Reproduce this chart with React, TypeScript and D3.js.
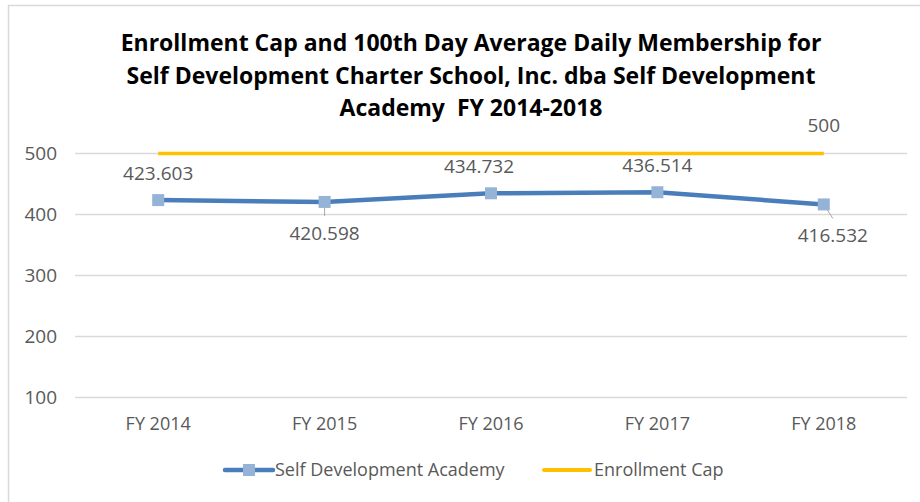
import React from "react";
import * as d3 from "d3";

const categories = ["FY 2014", "FY 2015", "FY 2016", "FY 2017", "FY 2018"];
const academyValues = [423.603, 420.598, 434.732, 436.514, 416.532];
const capValues = [500, 500, 500, 500, 500];
const yTicks = [100, 200, 300, 400, 500];
const titleLines = [
  "Enrollment Cap and 100th Day Average Daily Membership for",
  "Self Development Charter School, Inc. dba Self Development",
  "Academy\u00a0 FY 2014-2018",
];
const seriesNames = ["Self Development Academy", "Enrollment Cap"];
// label placement for academy data labels
const labelBelow = [false, true, false, false, true];
const labelDx = [0, 0, -12, 0, 9];

const W = 920;
const H = 502;
const FONT = "'Open Sans', 'Noto Sans', sans-serif";
const TEXT = "#595959";
const BLUE = "#4A7EBB";
const MARK = "#95B3D7";
const GOLD = "#FFC000";
const GRID = "#D9D9D9";

export default function App() {
  const x = d3.scaleBand<string>().domain(categories).range([75, 907]);
  const cx = (c: string) => (x(c) as number) + x.bandwidth() / 2;
  const y = d3.scaleLinear().domain([100, 500]).range([397.5, 153.5]);

  const line = d3
    .line<number>()
    .x((_, i) => cx(categories[i]))
    .y((d) => y(d));

  return (
    <svg
      width={W}
      height={H}
      style={{ position: "absolute", left: 0, top: 0, background: "#fff" }}
    >
      <rect x={8.5} y={5.5} width={W + 20} height={H + 20} fill="#fff" stroke={GRID} strokeWidth={1.5} />
      {titleLines.map((t, i) => (
        <text
          key={i}
          x={471}
          y={51 + i * 32.5}
          textAnchor="middle"
          fontFamily={FONT}
          fontWeight="bold"
          fontSize={23}
          fill="#000"
        >
          {t}
        </text>
      ))}
      {yTicks.map((t) => (
        <g key={t}>
          <line x1={75} x2={907} y1={y(t)} y2={y(t)} stroke={GRID} strokeWidth={1.5} />
          <text
            x={57}
            y={y(t)}
            dy="0.35em"
            textAnchor="end"
            fontFamily={FONT}
            fontSize={19}
            fill={TEXT}
          >
            {t}
          </text>
        </g>
      ))}
      {categories.map((c) => (
        <text
          key={c}
          x={cx(c)}
          y={424}
          dy="0.35em"
          textAnchor="middle"
          fontFamily={FONT}
          fontSize={18}
          fill={TEXT}
        >
          {c}
        </text>
      ))}
      <path d={line(capValues) || ""} fill="none" stroke={GOLD} strokeWidth={3.5} />
      <text
        x={cx(categories[4])}
        y={y(capValues[4]) - 28}
        dy="0.35em"
        textAnchor="middle"
        fontFamily={FONT}
        fontSize={19}
        fill={TEXT}
      >
        {capValues[4]}
      </text>
      <path d={line(academyValues) || ""} fill="none" stroke={BLUE} strokeWidth={4.5} />
      {academyValues.map((v, i) => {
        const px = cx(categories[i]);
        const py = y(v);
        const below = labelBelow[i];
        return (
          <g key={i}>
            {below && (
              <line
                x1={px}
                y1={py}
                x2={px + labelDx[i]}
                y2={py + 14}
                stroke="#A6A6A6"
                strokeWidth={1}
              />
            )}
            <rect x={px - 6} y={py - 6} width={12} height={12} fill={MARK} />
            <text
              x={px + labelDx[i]}
              y={below ? py + 31 : py - 27}
              dy="0.35em"
              textAnchor="middle"
              fontFamily={FONT}
              fontSize={19}
              fill={TEXT}
            >
              {v}
            </text>
          </g>
        );
      })}
      <g>
        <line x1={225} x2={273} y1={470} y2={470} stroke={BLUE} strokeWidth={4.5} strokeLinecap="round" />
        <rect x={243} y={464} width={12} height={12} fill={MARK} />
        <text x={275} y={470} dy="0.35em" fontFamily={FONT} fontSize={18} fill={TEXT}>
          {seriesNames[0]}
        </text>
        <line x1={544} x2={590} y1={470} y2={470} stroke={GOLD} strokeWidth={4} strokeLinecap="round" />
        <text x={594} y={470} dy="0.35em" fontFamily={FONT} fontSize={18} fill={TEXT}>
          {seriesNames[1]}
        </text>
      </g>
    </svg>
  );
}
